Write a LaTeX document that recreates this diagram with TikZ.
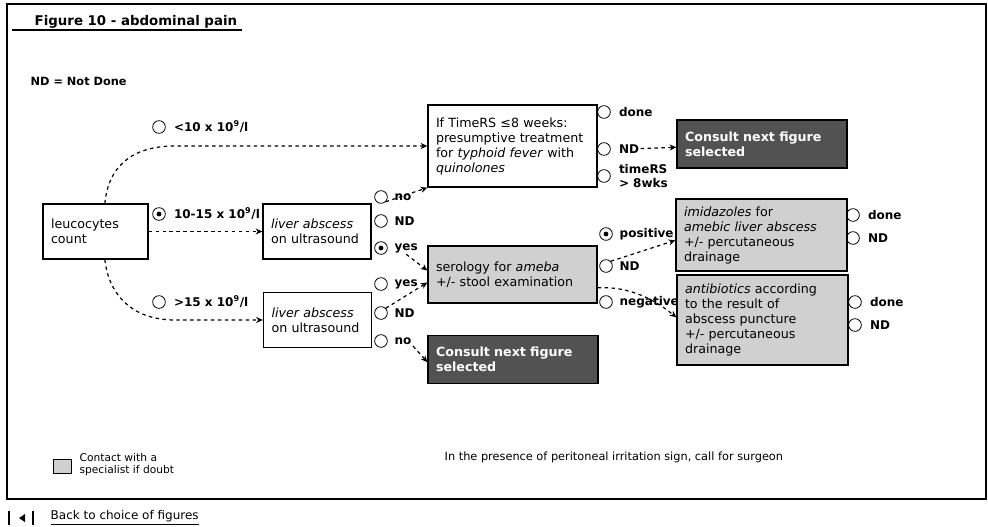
\documentclass[tikz,border=0pt]{standalone}
\usepackage{fontspec}
\setmainfont{DejaVu Sans}
\usetikzlibrary{arrows.meta,positioning}

\definecolor{specgray}{HTML}{D0D0D0}
\definecolor{consultgray}{HTML}{525252}

\tikzset{
  box/.style={draw, line width=1pt, align=left, inner xsep=6pt, inner ysep=3pt,
    font=\fontsize{9.5}{11.25}\selectfont},
  specbox/.style={box, fill=specgray},
  consult/.style={box, fill=consultgray, text=white,
    font=\fontsize{9.5}{11.25}\selectfont\bfseries},
  radio/.style={circle, draw, line width=0.6pt, minimum size=9.5pt, inner sep=0pt},
  picked/.style={radio, path picture={\fill (path picture bounding box.center) circle (1.8pt);}},
  opt/.style={font=\fontsize{9}{11}\selectfont\bfseries, inner sep=1pt, align=left},
  flow/.style={line width=0.9pt, dash pattern=on 2.6pt off 2.6pt,
    -{Stealth[length=5pt,width=4.5pt]}},
}

\begin{document}
\begin{tikzpicture}[x=0.75pt, y=-0.75pt]
\useasboundingbox (0,0) rectangle (988,526);

% Cornice e titoli
\draw[line width=1.1pt] (7,4) rectangle (986,499);
\node[anchor=west, font=\fontsize{10}{12}\selectfont\bfseries] (title) at (30,22) {Figure 10 - abdominal pain};
\draw[line width=0.8pt] (12,30) -- (title.south east |- 0,30);
\node[anchor=west, font=\fontsize{8.5}{10}\selectfont\bfseries] (legend) at (26,81) {ND = Not Done};

% Scelte
\node[radio] (low) at (159,127) {};
\node[opt, right=5pt of low] (lowT) {<10 x 10\textsuperscript{9}/l};
\node[picked] (mid) at (159,214) {};
\node[opt, right=5pt of mid] (midT) {10-15 x 10\textsuperscript{9}/l};
\node[radio] (high) at (159,302) {};
\node[opt, right=5pt of high] (highT) {>15 x 10\textsuperscript{9}/l};

\node[radio] (l1no) at (381,197) {};
\node[opt, right=4pt of l1no] (l1noT) {no};
\node[radio] (l1nd) at (381,221) {};
\node[opt, right=4pt of l1nd] (l1ndT) {ND};
\node[picked] (l1yes) at (381,248) {};
\node[opt, right=4pt of l1yes] (l1yesT) {yes};

\node[radio] (l2yes) at (381,284) {};
\node[opt, right=4pt of l2yes] (l2yesT) {yes};
\node[radio] (l2nd) at (381,313) {};
\node[opt, right=4pt of l2nd] (l2ndT) {ND};
\node[radio] (l2no) at (381,341) {};
\node[opt, right=4pt of l2no] (l2noT) {no};

\node[radio] (tydone) at (604,112) {};
\node[opt, right=5pt of tydone] (tydoneT) {done};
\node[radio] (tynd) at (604,149) {};
\node[opt, right=5pt of tynd] (tyndT) {ND};
\node[radio] (tylate) at (604,176) {};
\node[opt, right=5pt of tylate] (tylateT) {timeRS\\> 8wks};

\node[picked] (spos) at (606,234) {};
\node[opt, right=4pt of spos] (sposT) {positive};
\node[radio] (snd) at (606,266) {};
\node[opt, right=4pt of snd] (sndT) {ND};
\node[radio] (sneg) at (606,302) {};
\node[opt, right=4pt of sneg] (snegT) {negative};

\node[radio] (idone) at (853,215) {};
\node[opt, right=5pt of idone] (idoneT) {done};
\node[radio] (ind) at (853,238) {};
\node[opt, right=5pt of ind] (indT) {ND};
\node[radio] (adone) at (855,302) {};
\node[opt, right=5pt of adone] (adoneT) {done};
\node[radio] (and) at (855,325) {};
\node[opt, right=5pt of and] (andT) {ND};

% Riquadri principali
\node[box, text width=66.75pt, minimum height=41.25pt] (leuco) at (95.5,231.5) {leucocytes\\count};
\node[box, text width=69pt, minimum height=41.25pt] (liver1) at (317,231.5) {\textit{liver abscess}\\on ultrasound};
\node[box, text width=69pt, minimum height=41.25pt] (liver2) at (317.5,320) {\textit{liver abscess}\\on ultrasound};
\node[box, text width=114.75pt, minimum height=61.5pt] (typhoid) at (512.5,146)
  {If TimeRS ≤8 weeks:\\presumptive treatment\\for \textit{typhoid fever} with\\\textit{quinolones}};
\node[consult, text width=115.5pt, minimum height=36pt] (dark1) at (762,144) {Consult next figure\\selected};
\node[specbox, text width=114.75pt, minimum height=42.75pt] (serology) at (512.5,274.5)
  {serology for \textit{ameba}\\+/- stool examination};
\node[consult, text width=115.5pt, minimum height=36pt] (dark2) at (513,359.5) {Consult next figure\\selected};
\node[specbox, text width=116.25pt, minimum height=54pt] (imid) at (761.5,235)
  {\textit{imidazoles} for\\\textit{amebic liver abscess}\\+/- percutaneous\\drainage};
\node[specbox, text width=116.25pt, minimum height=67.5pt] (antib) at (762.5,320)
  {\textit{antibiotics} according\\to the result of\\abscess puncture\\+/- percutaneous\\drainage};

% Frecce
\draw[flow] ([xshift=7pt]leuco.north) .. controls (108,170) and (128,146) .. (175,146) -- (typhoid.west);
\draw[flow] (leuco) -- (liver1);
\draw[flow] ([xshift=7pt]leuco.south) .. controls (108,290) and (128,320) .. (175,320) -- (liver2.west);
\draw[flow] (l1no.south east) -- (typhoid.south west);
\draw[flow] (l1yesT.south) -- ([yshift=3pt]serology.west);
\draw[flow] (l2nd.north east) -- ([yshift=-6pt]serology.west);
\draw[flow] (l2noT.south east) -- ([yshift=-2pt]dark2.west);
\draw[flow] (tyndT) -- (dark1);
\draw[flow] (snd.north east) -- ([yshift=-4pt]imid.west);
\draw[flow] ([yshift=-10pt]serology.east) .. controls (630,286) and (655,300) .. ([yshift=2pt]antib.west);

% Note in basso
\node[draw, line width=0.6pt, fill=specgray, minimum width=14pt, minimum height=10.5pt, inner sep=0pt] (spec) at (62.5,466) {};
\node[anchor=west, font=\fontsize{8}{9}\selectfont, align=left, inner sep=1pt] (specT) at (78,465) {Contact with a\\specialist if doubt};
\node[anchor=west, font=\fontsize{8.5}{10}\selectfont] (surgeon) at (440,457) {In the presence of peritoneal irritation sign, call for surgeon};

% Navigazione
\draw[line width=1pt] (9,511) -- (9,525);
\draw[line width=1pt] (33,511) -- (33,525);
\fill (19,518) -- (25,514) -- (25,522) -- cycle;
\node[anchor=west, font=\fontsize{9}{10}\selectfont] (back) at (46,518) {\underline{Back to choice of figures}};
\end{tikzpicture}
\end{document}
